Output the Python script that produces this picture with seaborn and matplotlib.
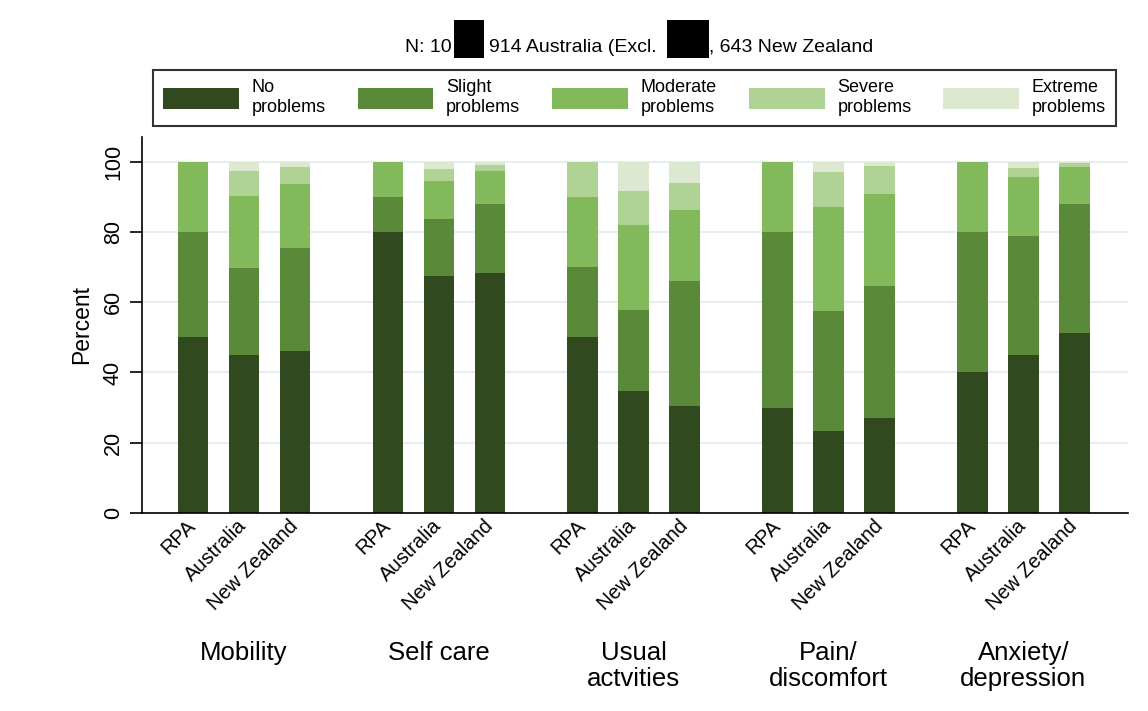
import matplotlib
matplotlib.use("Agg")
import matplotlib.pyplot as plt
import matplotlib.patches as mpatches
import numpy as np
import pandas as pd
import seaborn as sns

# EQ-5D dimensions, regions and response levels
dimensions = ["Mobility", "Self care", "Usual\nactvities", "Pain/\ndiscomfort", "Anxiety/\ndepression"]
regions = ["RPA", "Australia", "New Zealand"]
levels = ["No\nproblems", "Slight\nproblems", "Moderate\nproblems", "Severe\nproblems", "Extreme\nproblems"]

# percent of respondents per level, one value per (dimension, region)
no_problems = [50.0, 44.9, 46.2, 80.0, 67.4, 68.4, 50.0, 34.6, 30.4, 30.0, 23.3, 27.1, 40.0, 44.9, 51.1]
slight = [30.0, 24.9, 29.3, 10.0, 16.2, 19.6, 20.0, 23.3, 35.6, 50.0, 34.3, 37.5, 40.0, 33.9, 36.9]
moderate = [20.0, 20.5, 18.0, 10.0, 10.9, 9.2, 20.0, 24.1, 20.3, 20.0, 29.6, 26.2, 20.0, 16.7, 10.6]
severe = [0.0, 7.0, 5.1, 0.0, 3.3, 1.9, 10.0, 9.6, 7.7, 0.0, 9.8, 8.0, 0.0, 2.6, 1.0]
extreme = [0.0, 2.7, 1.4, 0.0, 2.2, 0.9, 0.0, 8.4, 6.0, 0.0, 3.0, 1.2, 0.0, 1.9, 0.4]

colors = ["#30491f", "#5b893a", "#82b95a", "#afd394", "#dce9d0"]

sns.set_style("white")
plt.rcParams["font.family"] = ["Liberation Sans", "DejaVu Sans"]
plt.rcParams["text.color"] = "black"
plt.rcParams["axes.labelcolor"] = "black"
plt.rcParams["xtick.color"] = "black"
plt.rcParams["ytick.color"] = "black"

# long table with cumulative tops so each level can be overlaid
rows = []
for d in range(len(dimensions)):
    for r in range(len(regions)):
        k = d * 3 + r
        vals = [no_problems[k], slight[k], moderate[k], severe[k], extreme[k]]
        cum = np.cumsum(vals)
        for li in range(len(levels)):
            rows.append({"pos": d * 3.82 + r, "region": regions[r], "level": li, "top": cum[li]})
df = pd.DataFrame(rows)

W, H = 1148, 711
fig = plt.figure(figsize=(W / 100, H / 100), dpi=100)
ax = fig.add_axes([142 / W, 1 - 513 / H, (1128 - 142) / W, (513 - 137) / H])

for li in reversed(range(len(levels))):
    sub = df[df["level"] == li]
    sns.barplot(data=sub, x="pos", y="top", native_scale=True, width=0.6,
                color=colors[li], saturation=1, linewidth=0, errorbar=None, ax=ax)

ax.set_xlim(-1.0, 18.33)
ax.set_ylim(0, 107)
ax.set_axisbelow(True)
ax.yaxis.grid(True, color="#e6eef0", linewidth=1.5)
ax.xaxis.grid(False)

positions = [d * 3.82 + r for d in range(len(dimensions)) for r in range(len(regions))]
ax.set_xticks(positions)
ax.set_xticklabels(regions * len(dimensions), rotation=45, ha="right", va="center",
                   rotation_mode="anchor", fontsize=14.5)
ax.tick_params(axis="x", length=0, pad=7)

ax.set_yticks([0, 20, 40, 60, 80, 100])
ax.set_yticklabels(["0", "20", "40", "60", "80", "100"], rotation=90, va="center", fontsize=15.5)
ax.tick_params(axis="y", length=9, width=1.2, pad=4, left=True)
ax.set_ylabel("Percent", fontsize=16.5, labelpad=7)
ax.set_xlabel("")

for s in ["top", "right"]:
    ax.spines[s].set_visible(False)
for s in ["left", "bottom"]:
    ax.spines[s].set_color("black")
    ax.spines[s].set_linewidth(1.2)

# group names under the region labels
for d, name in enumerate(dimensions):
    ax.text(d * 3.82 + 1, (513 - 641) / (513 - 137), name, transform=ax.get_xaxis_transform(),
            ha="center", va="top", fontsize=18.5, linespacing=1.12)

# legend across the top
handles = [mpatches.Patch(facecolor=c, edgecolor="none") for c in colors]
leg = fig.legend(handles, levels, ncol=5, loc="lower left", mode="expand",
                 bbox_to_anchor=(153 / W, 1 - 126 / H, (1116 - 153) / W, 58 / H),
                 fontsize=13, handlelength=4.2, handleheight=1.4, handletextpad=0.7,
                 borderaxespad=0, borderpad=0.55, frameon=True, fancybox=False,
                 labelspacing=0.2)
leg.get_frame().set_edgecolor("black")
leg.get_frame().set_linewidth(1.5)
for t in leg.get_texts():
    t.set_linespacing(1.2)

# title with redacted parts
ty = 1 - 52 / H
fig.text(452 / W, ty, "N: 10", ha="right", va="baseline", fontsize=14)
fig.text(489 / W, ty, "914 Australia (Excl.", ha="left", va="baseline", fontsize=14)
fig.text(709 / W, ty, ", 643 New Zealand", ha="left", va="baseline", fontsize=14)
for x0, x1 in [(454, 484), (667, 709)]:
    fig.patches.append(mpatches.Rectangle((x0 / W, 1 - 58 / H), (x1 - x0) / W, 38 / H,
                                          transform=fig.transFigure, facecolor="black",
                                          edgecolor="none"))

fig.savefig("out.png", dpi=100)
